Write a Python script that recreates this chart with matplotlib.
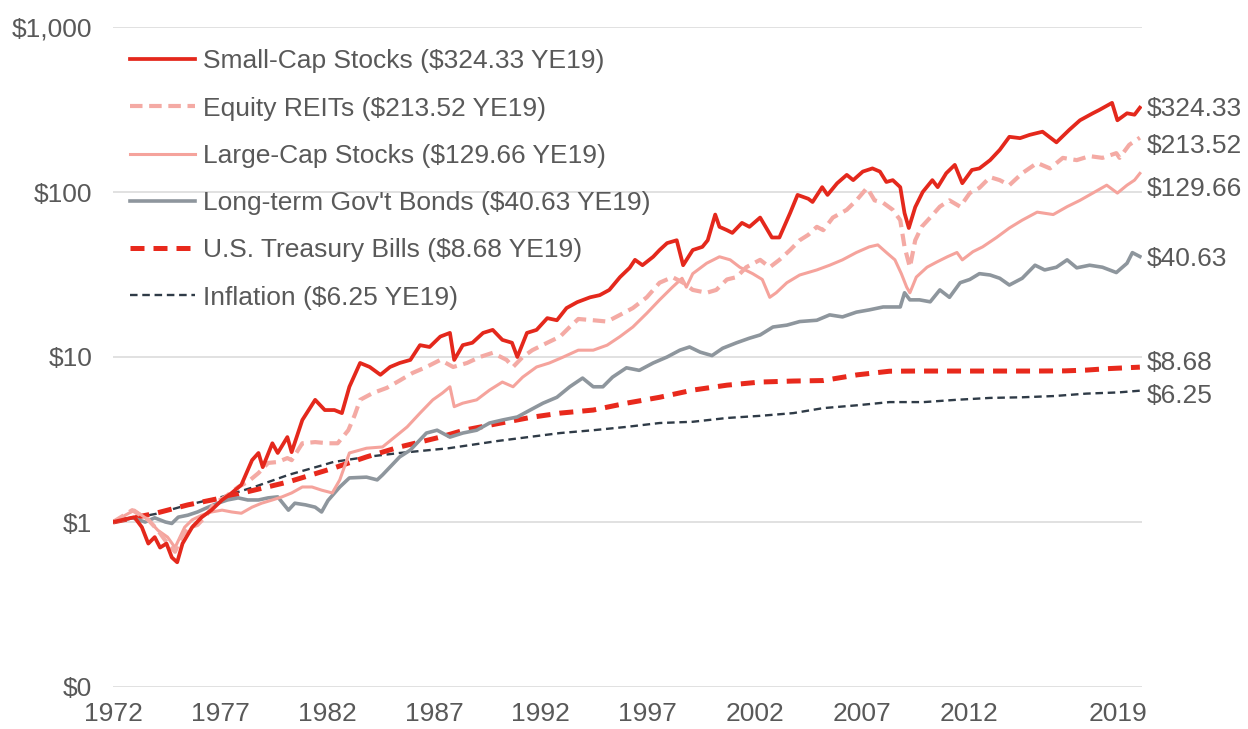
import matplotlib
matplotlib.use("Agg")
import matplotlib.pyplot as plt
import numpy as np

plt.rcParams['font.family'] = ['Liberation Sans', 'DejaVu Sans']

### growth of $1 (year, dollars)
small_x = [1972.0, 1973.0, 1973.35, 1973.65, 1973.95, 1974.2, 1974.5, 1974.75, 1975.0, 1975.25,
           1975.7, 1976.15, 1976.6, 1977.1, 1977.55, 1978.0, 1978.5, 1978.8, 1979.0, 1979.45,
           1979.7, 1980.15, 1980.35, 1980.85, 1981.45, 1981.9, 1982.35, 1982.7, 1983.05, 1983.55,
           1984.0, 1984.5, 1984.95, 1985.4, 1985.9, 1986.35, 1986.8, 1987.3, 1987.75, 1987.95,
           1988.35, 1988.8, 1989.3, 1989.75, 1990.2, 1990.65, 1990.9, 1991.35, 1991.8, 1992.3,
           1992.75, 1993.2, 1993.7, 1994.3, 1994.75, 1995.2, 1995.7, 1996.15, 1996.4, 1996.75,
           1997.25, 1997.55, 1997.9, 1998.35, 1998.65, 1999.1, 1999.55, 1999.8, 2000.15, 2000.35,
           2000.7, 2000.95, 2001.4, 2001.75, 2002.25, 2002.8, 2003.15, 2003.65, 2004.0, 2004.5,
           2004.7, 2005.15, 2005.4, 2005.85, 2006.3, 2006.6, 2007.05, 2007.5, 2007.85, 2008.15,
           2008.45, 2008.8, 2009.0, 2009.2, 2009.5, 2009.85, 2010.3, 2010.55, 2010.95, 2011.35,
           2011.7, 2012.15, 2012.5, 2013.0, 2013.45, 2013.9, 2014.4, 2014.85, 2015.45, 2016.1,
           2016.7, 2017.2, 2017.8, 2018.1, 2018.7, 2018.95, 2019.4, 2019.75, 2020.0]
small_y = [1.0, 1.07, 0.93, 0.74, 0.81, 0.70, 0.74, 0.61, 0.57, 0.74,
           0.93, 1.07, 1.18, 1.36, 1.50, 1.68, 2.37, 2.62, 2.15, 3.0,
           2.62, 3.27, 2.65, 4.15, 5.5, 4.77, 4.77, 4.57, 6.6, 9.2,
           8.7, 7.8, 8.7, 9.2, 9.6, 11.8, 11.5, 13.3, 14.0, 9.6,
           11.8, 12.2, 14.0, 14.6, 12.7, 12.2, 10.0, 14.0, 14.6, 17.2,
           16.7, 19.8, 21.5, 23.0, 23.7, 25.5, 30.5, 34.7, 38.8, 36.0,
           40.5, 44.5, 49.0, 51.0, 36.0, 44.5, 46.5, 51.0, 73.0, 61.5,
           58.7, 56.5, 65.0, 61.5, 70.0, 53.0, 53.0, 74.5, 96.0, 91.0,
           87.0, 107.0, 96.0, 113.0, 127.0, 118.0, 133.0, 139.0, 133.0, 115.0,
           118.0, 107.0, 74.5, 60.5, 81.0, 100.0, 118.0, 107.0, 130.0, 146.0,
           113.0, 136.0, 139.0, 156.0, 180.0, 216.0, 212.0, 222.0, 232.0, 200.0,
           238.0, 272.0, 300.0, 314.0, 347.0, 272.0, 300.0, 294.0, 324.33]

reit_x = [1972.0, 1972.9, 1973.65, 1974.1, 1974.55, 1974.9, 1975.2, 1975.5, 1975.95, 1976.3,
          1976.75, 1977.25, 1977.85, 1978.3, 1978.8, 1979.25, 1979.7, 1980.15, 1980.35, 1980.85,
          1981.45, 1982.05, 1982.5, 1983.0, 1983.3, 1983.55, 1984.15, 1984.8, 1985.4, 1986.0,
          1986.65, 1987.3, 1987.9, 1988.55, 1989.15, 1989.75, 1990.4, 1990.7, 1991.15, 1991.6,
          1992.3, 1992.9, 1993.35, 1993.75, 1994.45, 1995.1, 1995.7, 1996.3, 1996.95, 1997.55,
          1998.15, 1998.65, 1999.1, 1999.75, 2000.2, 2000.7, 2001.15, 2001.6, 2002.25, 2002.7,
          2003.15, 2003.65, 2004.1, 2004.5, 2004.9, 2005.2, 2005.65, 2006.3, 2006.75, 2007.25,
          2007.6, 2008.0, 2008.45, 2008.8, 2009.0, 2009.25, 2009.5, 2009.8, 2010.2, 2010.65,
          2011.1, 2011.6, 2012.05, 2012.5, 2013.0, 2013.45, 2013.9, 2014.5, 2015.2, 2015.8,
          2016.4, 2017.05, 2017.65, 2018.25, 2018.9, 2019.05, 2019.5, 2019.85, 2020.0]
reit_y = [1.0, 1.18, 1.03, 0.89, 0.74, 0.66, 0.81, 0.92, 0.96, 1.07,
          1.30, 1.42, 1.63, 1.75, 1.98, 2.28, 2.31, 2.44, 2.37, 3.0,
          3.05, 3.0, 3.0, 3.6, 4.45, 5.5, 6.05, 6.5, 7.2, 8.0,
          8.7, 9.6, 8.7, 9.2, 10.0, 10.6, 9.6, 8.7, 10.0, 11.0,
          12.2, 13.3, 15.2, 17.0, 16.7, 16.4, 18.0, 19.8, 23.0, 28.2,
          30.5, 28.2, 25.5, 24.5, 25.5, 29.5, 30.5, 35.0, 38.8, 35.0,
          38.8, 44.5, 51.0, 55.0, 61.5, 58.7, 70.0, 78.0, 89.0, 106.0,
          89.0, 86.0, 78.0, 67.5, 46.5, 35.0, 51.0, 61.5, 70.0, 81.5,
          89.0, 81.5, 98.5, 106.0, 123.0, 118.0, 110.0, 130.0, 150.0, 139.0,
          161.0, 156.0, 165.0, 161.0, 172.0, 161.0, 193.0, 207.0, 213.52]

large_x = [1972.0, 1973.0, 1973.65, 1974.1, 1974.55, 1974.9, 1975.35, 1975.7, 1976.15, 1976.6,
           1977.1, 1977.55, 1978.0, 1978.5, 1978.95, 1979.45, 1979.9, 1980.35, 1980.85, 1981.3,
           1981.75, 1982.25, 1982.6, 1983.05, 1983.85, 1984.6, 1985.4, 1985.75, 1986.35, 1986.95,
           1987.4, 1987.75, 1987.95, 1988.35, 1989.0, 1989.6, 1990.2, 1990.7, 1991.15, 1991.8,
           1992.4, 1993.05, 1993.75, 1994.45, 1995.1, 1995.7, 1996.3, 1996.95, 1997.55, 1998.15,
           1998.6, 1998.8, 1999.1, 1999.75, 2000.35, 2000.85, 2001.3, 2001.9, 2002.35, 2002.7,
           2003.0, 2003.5, 2004.1, 2004.9, 2005.5, 2006.1, 2006.75, 2007.35, 2007.75, 2008.15,
           2008.55, 2008.85, 2009.1, 2009.25, 2009.55, 2010.05, 2010.5, 2011.0, 2011.45, 2011.7,
           2012.2, 2012.65, 2013.3, 2013.9, 2014.5, 2015.2, 2015.95, 2016.6, 2017.2, 2017.8,
           2018.45, 2018.95, 2019.4, 2019.75, 2020.0]
large_y = [1.0, 1.18, 1.03, 0.89, 0.81, 0.70, 0.93, 1.03, 1.10, 1.15,
           1.18, 1.15, 1.13, 1.23, 1.30, 1.36, 1.42, 1.50, 1.63, 1.63,
           1.56, 1.50, 1.80, 2.62, 2.8, 2.85, 3.46, 3.77, 4.57, 5.5,
           6.05, 6.6, 5.0, 5.25, 5.5, 6.3, 7.05, 6.6, 7.55, 8.7,
           9.2, 10.0, 11.0, 11.0, 11.8, 13.3, 15.2, 18.4, 22.2, 26.5,
           30.0, 26.5, 32.0, 37.0, 40.5, 38.8, 35.0, 32.0, 29.5, 23.0,
           24.5, 28.2, 31.4, 33.7, 36.0, 38.8, 43.0, 46.5, 47.8, 43.0,
           38.8, 32.0, 26.5, 24.5, 30.5, 35.0, 37.6, 40.5, 43.0, 38.8,
           43.5, 46.5, 53.0, 60.5, 67.5, 75.5, 73.0, 81.5, 89.0, 98.5,
           110.0, 98.5, 110.0, 118.0, 129.66]

bond_x = [1972.0, 1972.9, 1973.5, 1973.95, 1974.45, 1974.75, 1975.05, 1975.5, 1975.95, 1976.45,
          1976.9, 1977.35, 1977.85, 1978.3, 1978.8, 1979.25, 1979.7, 1980.2, 1980.5, 1981.0,
          1981.45, 1981.75, 1982.05, 1982.6, 1983.05, 1983.85, 1984.35, 1984.6, 1985.4, 1985.9,
          1986.65, 1987.15, 1987.75, 1988.35, 1989.0, 1989.6, 1990.2, 1990.9, 1991.5, 1992.1,
          1992.75, 1993.35, 1993.95, 1994.45, 1994.9, 1995.35, 1996.0, 1996.6, 1997.25, 1997.9,
          1998.5, 1998.95, 1999.45, 2000.0, 2000.5, 2001.15, 2001.75, 2002.25, 2002.85, 2003.5,
          2004.1, 2004.9, 2005.5, 2006.1, 2006.75, 2007.35, 2008.0, 2008.8, 2009.0, 2009.25,
          2009.7, 2010.2, 2010.65, 2011.1, 2011.6, 2012.05, 2012.5, 2013.0, 2013.45, 2013.9,
          2014.5, 2015.1, 2015.55, 2016.1, 2016.6, 2017.05, 2017.65, 2018.25, 2018.9, 2019.4,
          2019.65, 2020.0]
bond_y = [1.0, 1.06, 1.0, 1.06, 1.0, 0.98, 1.07, 1.10, 1.15, 1.23,
          1.30, 1.36, 1.40, 1.36, 1.36, 1.40, 1.42, 1.18, 1.30, 1.27,
          1.23, 1.15, 1.35, 1.63, 1.85, 1.87, 1.80, 1.93, 2.48, 2.73,
          3.46, 3.6, 3.27, 3.46, 3.6, 3.98, 4.15, 4.33, 4.77, 5.25,
          5.7, 6.6, 7.45, 6.6, 6.6, 7.55, 8.6, 8.3, 9.2, 10.0,
          11.0, 11.5, 10.7, 10.2, 11.3, 12.2, 13.0, 13.6, 15.2, 15.6,
          16.4, 16.7, 18.0, 17.5, 18.7, 19.3, 20.1, 20.1, 24.5, 22.2,
          22.2, 21.6, 25.5, 23.0, 28.2, 29.5, 32.0, 31.4, 30.0, 27.3,
          30.0, 36.0, 33.7, 35.0, 38.8, 34.7, 36.0, 35.0, 32.5, 37.0,
          42.9, 40.63]

tbill_x = [1972.0, 1974.0, 1975.5, 1977.1, 1978.6, 1980.2, 1982.3, 1983.85, 1985.4, 1987.3,
           1988.4, 1990.0, 1991.5, 1992.9, 1994.45, 1996.0, 1997.55, 1999.1, 2000.7, 2002.25,
           2003.8, 2005.2, 2006.8, 2008.3, 2009.5, 2012.0, 2015.0, 2016.5, 2017.5, 2018.5, 2020.0]
tbill_y = [1.0, 1.13, 1.27, 1.40, 1.56, 1.75, 2.12, 2.48, 2.85, 3.27,
           3.6, 3.95, 4.3, 4.57, 4.77, 5.25, 5.7, 6.3, 6.75, 7.05,
           7.15, 7.2, 7.8, 8.2, 8.22, 8.22, 8.22, 8.24, 8.33, 8.5, 8.68]

infl_x = [1972.0, 1974.0, 1975.5, 1977.1, 1978.6, 1980.2, 1981.8, 1982.3, 1983.85, 1985.4,
          1987.7, 1990.0, 1992.9, 1994.45, 1996.0, 1997.55, 1999.1, 2000.7, 2002.25, 2003.8,
          2005.2, 2006.8, 2008.3, 2009.9, 2011.4, 2013.0, 2014.5, 2016.0, 2017.5, 2019.0, 2020.0]
infl_y = [1.0, 1.12, 1.27, 1.42, 1.63, 1.93, 2.21, 2.31, 2.48, 2.62,
          2.8, 3.1, 3.46, 3.6, 3.77, 3.98, 4.05, 4.27, 4.4, 4.57,
          4.9, 5.1, 5.33, 5.33, 5.5, 5.65, 5.7, 5.8, 6.0, 6.1, 6.25]

names = ["Small-Cap Stocks ($324.33 YE19)", "Equity REITs ($213.52 YE19)",
         "Large-Cap Stocks ($129.66 YE19)", "Long-term Gov't Bonds ($40.63 YE19)",
         "U.S. Treasury Bills ($8.68 YE19)", "Inflation ($6.25 YE19)"]
end_labels = ["$324.33", "$213.52", "$129.66", "$40.63", "$8.68", "$6.25"]
year_ticks = [1972, 1977, 1982, 1987, 1992, 1997, 2002, 2007, 2012, 2019]
y_ticks = [0.1, 1, 10, 100, 1000]
y_ticklabels = ["$0", "$1", "$10", "$100", "$1,000"]

#### --------
txt = '#595959'
fs = 19

fig = plt.figure(figsize=(12.48, 7.29), dpi=100)
ax = fig.add_axes([113/1248, 1 - 687/729, 1029/1248, 660/729])

series = [(small_x, small_y, dict(color='#E4281C', lw=2.7, ls='-')),
          (reit_x, reit_y, dict(color='#F4AAA4', lw=3.0, ls=(0, (3, 1.6)))),
          (large_x, large_y, dict(color='#F5A39C', lw=2.2, ls='-')),
          (bond_x, bond_y, dict(color='#8E969D', lw=2.6, ls='-')),
          (tbill_x, tbill_y, dict(color='#E8291C', lw=3.6, ls=(0, (2.8, 1.8)))),
          (infl_x, infl_y, dict(color='#2F3B47', lw=1.7, ls=(0, (3.2, 2.0))))]

for i, (xs, ys, st) in enumerate(series):
    ax.plot(xs, ys, label=names[i], zorder=10 - i, solid_joinstyle='round', **st)

# end value labels (nudged like the original to avoid overlaps)
nudge = [-1, -6, -11, -2, 3, -4]
for i, (xs, ys, st) in enumerate(series):
    ax.annotate(end_labels[i], xy=(xs[-1], ys[-1]), xytext=(5, nudge[i]),
                textcoords='offset points', va='center', ha='left',
                fontsize=fs, color=txt, annotation_clip=False)

ax.set_yscale('log')
ax.set_ylim(0.1, 1000)
ax.set_xlim(1972, 2020.1)
ax.set_yticks(y_ticks)
ax.set_yticklabels(y_ticklabels)
ax.yaxis.set_minor_locator(matplotlib.ticker.NullLocator())
ax.set_xticks(year_ticks)
ax.set_xticklabels([str(y) for y in year_ticks])
ax.tick_params(axis='both', length=0, labelsize=fs, labelcolor=txt)
ax.tick_params(axis='y', pad=15)
ax.tick_params(axis='x', pad=11)
for s in ax.spines.values():
    s.set_visible(False)
ax.grid(axis='y', color='#D9D9D9', lw=1.1)
ax.set_axisbelow(True)

leg = ax.legend(loc='upper left', bbox_to_anchor=(0.0165, 0.966), frameon=False,
                fontsize=fs, labelcolor=txt, handlelength=2.45, handletextpad=0.3,
                labelspacing=0.88, borderpad=0, borderaxespad=0)

fig.savefig('out.png', dpi=100)
